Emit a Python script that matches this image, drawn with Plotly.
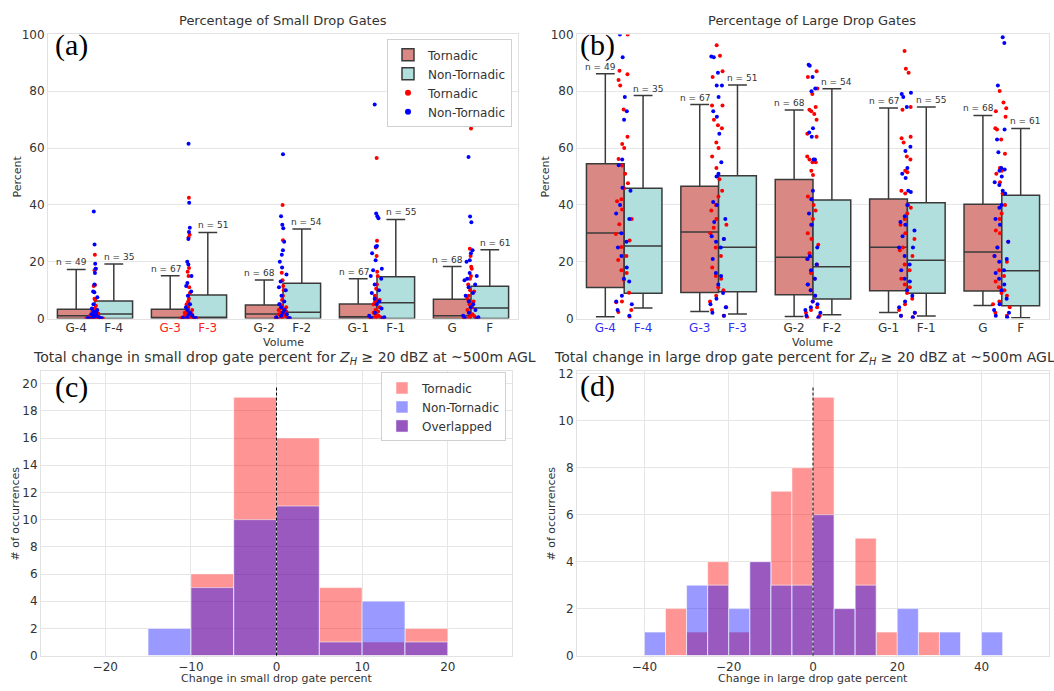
import plotly.graph_objects as go

# ---------------- data ----------------
tick_g = ["G-4", "G-3", "G-2", "G-1", "G"]
tick_f = ["F-4", "F-3", "F-2", "F-1", "F"]
n_tor = [49, 67, 68, 67, 68]
n_non = [35, 51, 54, 55, 61]

# (a) small-drop box statistics
a_tor_q1 = [0.0, 0.0, 0.0, 0.0, 0.0]
a_tor_med = [1.0, 0.3, 1.6, 0.6, 1.0]
a_tor_q3 = [3.3, 3.3, 4.8, 5.1, 6.8]
a_tor_lo = [0.0, 0.0, 0.0, 0.0, 0.0]
a_tor_hi = [17.3, 15.1, 13.6, 14.0, 18.3]
a_non_q1 = [0.0, 0.0, 0.0, 0.0, 0.0]
a_non_med = [1.6, 0.5, 2.2, 5.6, 3.7]
a_non_q3 = [6.2, 8.3, 12.4, 14.7, 11.4]
a_non_lo = [0.0, 0.0, 0.0, 0.0, 0.0]
a_non_hi = [19.2, 30.3, 31.5, 34.9, 24.2]

# (b) large-drop box statistics
b_tor_q1 = [10.9, 9.2, 8.4, 9.8, 9.7]
b_tor_med = [30.1, 30.5, 21.6, 25.1, 23.4]
b_tor_q3 = [54.5, 46.6, 48.9, 42.1, 40.2]
b_tor_lo = [0.6, 2.5, 0.7, 2.1, 4.6]
b_tor_hi = [86.2, 75.3, 73.4, 74.1, 71.5]
b_non_q1 = [8.9, 9.4, 6.9, 8.9, 4.5]
b_non_med = [25.5, 25.1, 18.2, 20.5, 16.8]
b_non_q3 = [45.9, 50.3, 41.7, 40.8, 43.4]
b_non_lo = [3.7, 1.6, 1.3, 0.9, 0.3]
b_non_hi = [78.5, 82.2, 80.9, 74.5, 66.9]

# (a) strip points
a_pts_tor = [
    [22.5, 17.5, 17.0, 11.5, 11.8, 7.0, 6.5, 4.5, 3.5, 3.0, 2.5, 2.0, 1.8, 1.5, 1.2, 1.0, 0.8, 0.6, 0.5, 0.4, 0.3, 0.2, 0.1, 0.0, 0.0, 0.0, 0.0, 0.0],
    [42.5, 29.5, 28.5, 17.8, 16.5, 15.0, 11.0, 9.0, 7.0, 6.0, 5.0, 4.0, 3.0, 2.5, 2.0, 1.5, 1.2, 1.0, 0.8, 0.5, 0.4, 0.3, 0.2, 0.1, 0.0, 0.0, 0.0, 0.0],
    [40.0, 27.6, 16.1, 13.5, 11.5, 10.0, 8.0, 6.5, 5.0, 4.5, 4.0, 3.5, 3.0, 2.5, 2.0, 1.8, 1.5, 1.2, 1.0, 0.8, 0.5, 0.3, 0.2, 0.0, 0.0, 0.0],
    [56.5, 27.4, 25.0, 22.0, 16.5, 15.0, 12.0, 10.5, 8.0, 7.0, 6.5, 6.0, 5.0, 4.0, 3.0, 2.5, 2.0, 1.5, 1.0, 0.8, 0.5, 0.3, 0.2, 0.0, 0.0, 0.0],
    [66.9, 24.6, 22.0, 18.2, 17.5, 15.0, 14.0, 12.0, 10.0, 9.5, 8.0, 7.0, 6.0, 5.0, 4.0, 3.0, 2.0, 1.5, 1.0, 0.8, 0.5, 0.3, 0.2, 0.0, 0.0],
]
a_pts_non = [
    [37.7, 26.1, 19.3, 17.5, 16.0, 12.0, 9.5, 9.3, 7.5, 5.0, 3.5, 3.0, 2.5, 2.0, 1.5, 1.2, 1.0, 0.8, 0.5, 0.4, 0.2, 0.1, 0.0, 0.0],
    [61.5, 40.8, 32.0, 30.5, 28.0, 20.0, 19.0, 15.0, 12.5, 11.5, 9.5, 8.0, 5.0, 4.0, 3.0, 2.0, 1.5, 1.0, 0.5, 0.3, 0.2, 0.0, 0.0],
    [57.8, 36.0, 33.0, 31.8, 27.0, 24.0, 22.5, 20.0, 18.0, 15.5, 13.0, 11.0, 10.0, 8.0, 6.0, 5.0, 4.0, 3.0, 2.0, 1.5, 1.0, 0.5, 0.2, 0.0, 0.0],
    [75.3, 37.0, 36.0, 35.3, 25.5, 25.3, 23.0, 20.5, 17.5, 17.0, 15.0, 14.0, 12.0, 10.0, 9.0, 7.0, 6.0, 5.0, 3.5, 2.0, 1.0, 0.5, 0.2, 0.0],
    [56.9, 35.9, 33.9, 24.0, 23.0, 20.5, 20.0, 16.0, 15.0, 14.0, 13.5, 12.0, 11.0, 9.0, 8.0, 6.0, 5.0, 4.0, 3.0, 2.0, 1.0, 0.5, 0.2, 0.0],
]
# (b) strip points
b_pts_tor = [
    [100, 87.2, 86, 84, 82, 73.6, 64, 61.4, 60, 56.2, 53.9, 51, 47.6, 45.9, 42, 41.3, 38.4, 35, 33.2, 29.8, 27.5, 25.2, 22, 20.6, 17, 16, 13.7, 9.1, 6, 5.7, 3, 2.3, 0.6],
    [96.2, 92.5, 87, 85, 75, 75, 70, 68, 67, 62, 60, 57, 53, 49, 45, 43, 40, 38, 35, 33, 32, 30, 28, 25, 22, 18, 15, 14, 11, 10, 8, 6, 4, 3, 1],
    [87, 85, 81, 79, 74.5, 73.5, 73, 72, 70, 65, 64, 57, 56, 55, 55, 52, 50.5, 43, 42, 40, 38, 35, 33, 30, 28, 26, 23, 21, 19, 16, 14, 12, 10, 8, 6, 4, 3, 2, 1, 0.5, 0],
    [94.2, 87.9, 86.5, 74.5, 73.5, 64, 63.5, 62, 57, 56, 52, 51.5, 45, 44, 40, 39, 37, 35, 33, 30, 28, 25, 24, 22, 19, 17, 14, 12, 11, 9, 7, 5, 3, 2, 1, 0.5],
    [80.1, 76, 74, 73, 71, 67, 66.5, 63, 58, 53, 52, 51, 48, 44, 40, 37, 35, 31, 30, 27, 25, 22, 20, 17, 15, 13, 11, 10, 9, 8, 6, 5, 4, 2, 1],
]
b_pts_non = [
    [100, 92, 78, 73, 70, 56, 54, 46, 45, 40, 37, 35, 30, 27, 25, 22, 18, 14, 13, 8, 6, 5, 3, 1],
    [92.2, 92, 86.5, 82, 82, 78, 73, 71, 65, 55, 51, 50, 41, 40, 35, 34, 29, 28, 27, 25, 21, 16, 15, 12, 9, 7, 5, 4, 2, 1],
    [89.3, 89, 85, 81, 80, 67, 65.5, 64, 56, 56, 45, 42, 37, 33, 25, 22, 21, 19, 17, 14, 12, 10, 8, 6, 5, 4, 3, 2, 1, 0.5],
    [79.5, 79, 78, 74.5, 60.5, 59, 53, 51, 49.5, 45, 44.5, 40, 36, 34, 33, 31, 29, 25, 25, 22, 19, 17, 14, 13, 10, 8, 6, 4, 2, 1, 0.5],
    [99, 97, 82, 66.5, 63, 58.5, 53, 52.5, 52, 50, 48, 47, 45, 44, 40, 39, 35, 33, 27, 25, 22, 21, 20, 17, 16, 14, 12, 10, 7, 5, 3, 2, 1, 0.5],
]

# (c) histogram of change in small drop gate percent (bin left edges, width 5)
c_bins = [-15, -10, -5, 0, 5, 10, 15]
c_tor = [0, 6, 19, 16, 5, 1, 2]
c_non = [2, 5, 10, 11, 1, 4, 1]
# (d) histogram of change in large drop gate percent
d_bins = [-40, -35, -30, -25, -20, -15, -10, -5, 0, 5, 10, 15, 20, 25, 30, 35, 40]
d_tor = [0, 2, 1, 4, 1, 4, 7, 8, 11, 2, 5, 1, 0, 1, 0, 0, 0]
d_non = [1, 0, 3, 3, 2, 4, 3, 3, 6, 2, 3, 0, 2, 0, 1, 0, 1]
bin_w = 5

# ---------------- styling ----------------
W, H = 1054, 691
FONT = "DejaVu Sans"
TXT = "#333333"
TOR_FILL = "#d98884"
NON_FILL = "#b1dfdd"
BOX_LINE = "#3a3a3a"
HIST_RED = "rgba(255,0,0,0.42)"
HIST_BLUE = "rgba(0,0,255,0.40)"
OVERLAP = "rgb(150,86,192)"

def px_x(p):
    return p / W

def px_y(p):
    return 1 - p / H

fig = go.Figure()

def add_boxes(xa, ya, q1, med, q3, lo, hi, fill, name, show, legend="legend", offset=0.0):
    xs = [i + offset for i in range(len(q1))]
    fig.add_trace(go.Box(
        x=xs, q1=q1, median=med, q3=q3, lowerfence=lo, upperfence=hi,
        width=0.4, whiskerwidth=0.5, fillcolor=fill,
        line=dict(color=BOX_LINE, width=1.5), name=name, showlegend=show,
        legend=legend, xaxis=xa, yaxis=ya, boxpoints=False, hoverinfo="skip"))

def add_points(xa, ya, pts, color):
    for i, vals in enumerate(pts):
        fig.add_trace(go.Box(
            x=[i] * len(vals), y=vals, width=0.22, boxpoints="all", jitter=1.0,
            pointpos=0, fillcolor="rgba(0,0,0,0)", line=dict(width=0, color="rgba(0,0,0,0)"),
            marker=dict(color=color, size=4), showlegend=False,
            xaxis=xa, yaxis=ya, hoverinfo="skip"))

# (a)
add_boxes("x", "y", a_tor_q1, a_tor_med, a_tor_q3, a_tor_lo, a_tor_hi, TOR_FILL, "Tornadic", True, offset=-0.2)
add_boxes("x", "y", a_non_q1, a_non_med, a_non_q3, a_non_lo, a_non_hi, NON_FILL, "Non-Tornadic", True, offset=0.2)
add_points("x", "y", a_pts_tor, "red")
add_points("x", "y", a_pts_non, "blue")
fig.add_trace(go.Scatter(x=[None], y=[None], mode="markers", marker=dict(color="red", size=6),
                         name="Tornadic", xaxis="x", yaxis="y", legend="legend"))
fig.add_trace(go.Scatter(x=[None], y=[None], mode="markers", marker=dict(color="blue", size=6),
                         name="Non-Tornadic", xaxis="x", yaxis="y", legend="legend"))
# (b)
add_boxes("x2", "y2", b_tor_q1, b_tor_med, b_tor_q3, b_tor_lo, b_tor_hi, TOR_FILL, "Tornadic", False, offset=-0.2)
add_boxes("x2", "y2", b_non_q1, b_non_med, b_non_q3, b_non_lo, b_non_hi, NON_FILL, "Non-Tornadic", False, offset=0.2)
add_points("x2", "y2", b_pts_tor, "red")
add_points("x2", "y2", b_pts_non, "blue")

# (c), (d) histograms
def add_hist(xa, ya, bins, tor, non, show):
    centers = [b + bin_w / 2 for b in bins]
    edge = dict(color="rgba(255,255,255,0.55)", width=1)
    fig.add_trace(go.Bar(x=centers, y=tor, width=bin_w, marker=dict(color=HIST_RED, line=edge),
                         name="Tornadic", showlegend=show, legend="legend2", xaxis=xa, yaxis=ya,
                         hoverinfo="skip"))
    fig.add_trace(go.Bar(x=centers, y=non, width=bin_w, marker=dict(color=HIST_BLUE, line=edge),
                         name="Non-Tornadic", showlegend=show, legend="legend2", xaxis=xa, yaxis=ya,
                         hoverinfo="skip"))

add_hist("x3", "y3", c_bins, c_tor, c_non, True)
fig.add_trace(go.Bar(x=[None], y=[None], marker=dict(color=OVERLAP), name="Overlapped",
                     legend="legend2", xaxis="x3", yaxis="y3"))
add_hist("x4", "y4", d_bins, d_tor, d_non, False)

# ---------------- axes ----------------
base = dict(showgrid=True, gridcolor="#e6e6e6", gridwidth=1, zeroline=False, showline=True,
            linecolor="#e2e2e2", linewidth=1, mirror=True, ticks="",
            tickfont=dict(family=FONT, size=12, color=TXT))

def ticklabels(colored_idx, color):
    out_v, out_t = [], []
    for i in range(len(tick_g)):
        for off, lab in ((-0.2, tick_g[i]), (0.2, tick_f[i])):
            out_v.append(i + off)
            if i in colored_idx:
                out_t.append('<span style="color:%s">%s</span>' % (color, lab))
            else:
                out_t.append(lab)
    return out_v, out_t

tva, tta = ticklabels([1], "#ff2020")
tvb, ttb = ticklabels([0, 1], "#2f2ff5")

dom_a_x = [px_x(48), px_x(518)]
dom_b_x = [px_x(577), px_x(1049)]
dom_c_x = [px_x(41), px_x(512)]
dom_d_x = [px_x(577), px_x(1049)]
dom_top_y = [px_y(318), px_y(28)]
dom_bot_y = [px_y(662), px_y(372)]

fig.update_layout(
    xaxis=dict(base, domain=dom_a_x, anchor="y", range=[-0.5, 4.5], showgrid=False,
               tickvals=tva, ticktext=tta, ticklabelstandoff=-2),
    yaxis=dict(base, domain=dom_top_y, anchor="x", range=[0, 100], tickvals=[0, 20, 40, 60, 80, 100]),
    xaxis2=dict(base, domain=dom_b_x, anchor="y2", range=[-0.5, 4.5], showgrid=False,
                tickvals=tvb, ticktext=ttb, ticklabelstandoff=-2),
    yaxis2=dict(base, domain=dom_top_y, anchor="x2", range=[0, 100], tickvals=[0, 20, 40, 60, 80, 100]),
    xaxis3=dict(base, domain=dom_c_x, anchor="y3", range=[-27.5, 27.5], tickvals=[-20, -10, 0, 10, 20]),
    yaxis3=dict(base, domain=dom_bot_y, anchor="x3", range=[0, 20.9], tickvals=list(range(0, 21, 2))),
    xaxis4=dict(base, domain=dom_d_x, anchor="y4", range=[-56, 56], tickvals=[-40, -20, 0, 20, 40]),
    yaxis4=dict(base, domain=dom_bot_y, anchor="x4", range=[0, 12.1], tickvals=list(range(0, 13, 2))),
    boxmode="overlay", barmode="overlay",
    width=W, height=H, margin=dict(l=0, r=0, t=0, b=0),
    paper_bgcolor="white", plot_bgcolor="white",
    font=dict(family=FONT, color=TXT, size=12),
    legend=dict(x=px_x(512), y=px_y(33), xanchor="right", yanchor="top", bgcolor="white",
                bordercolor="#d0d0d0", borderwidth=1, font=dict(size=12, color=TXT),
                tracegroupgap=0),
    legend2=dict(x=px_x(506), y=px_y(373), xanchor="right", yanchor="top", bgcolor="white",
                 bordercolor="#d0d0d0", borderwidth=1, font=dict(size=12, color=TXT),
                 tracegroupgap=0),
)

# dashed zero lines
for xa, ya in (("x3", "y3"), ("x4", "y4")):
    fig.add_shape(type="line", xref=xa, yref=ya + " domain", x0=0, x1=0, y0=0, y1=0.95,
                  line=dict(color="black", width=1, dash="3px,2px"))

ann = []
def text(x, y, s, size=12, **kw):
    d = dict(x=x, y=y, xref="paper", yref="paper", text=s, showarrow=False,
             xanchor="center", yanchor="middle",
             font=dict(family=FONT, size=size, color=TXT))
    d.update(kw)
    ann.append(d)

# titles
text(px_x(283), px_y(14), "Percentage of Small Drop Gates", 13)
text(px_x(812), px_y(14), "Percentage of Large Drop Gates", 13)
text(px_x(284), px_y(358), "Total change in small drop gate percent for <i>Z<sub>H</sub></i> \u2265 20 dBZ at ~500m AGL", 14)
text(px_x(804), px_y(358), "Total change in large drop gate percent for <i>Z<sub>H</sub></i> \u2265 20 dBZ at ~500m AGL", 14)
# axis titles
text(px_x(283), px_y(342), "Volume", 11)
text(px_x(812), px_y(342), "Volume", 11)
text(px_x(17), px_y(173), "Percent", 11, textangle=-90)
text(px_x(545), px_y(173), "Percent", 11, textangle=-90)
text(px_x(16), px_y(517), "# of occurrences", 11, textangle=-90)
text(px_x(552), px_y(517), "# of occurrences", 11, textangle=-90)
text(px_x(277), px_y(685), "Change in small drop gate percent", 11)
text(px_x(813), px_y(685), "Change in large drop gate percent", 11)
# panel labels
for lx, ly, lab in ((71, 39, "(a)"), (597, 39, "(b)"), (71, 388, "(c)"), (597, 387, "(d)")):
    ann.append(dict(x=px_x(lx), y=px_y(ly), xref="paper", yref="paper", text=lab, showarrow=False,
                    xanchor="center", yanchor="middle",
                    font=dict(family="Liberation Serif", size=30, color="black")))

# n labels
for xa, ya, his_t, his_n in (("x", "y", a_tor_hi, a_non_hi), ("x2", "y2", b_tor_hi, b_non_hi)):
    for i in range(5):
        for off, hi, n in ((-0.25, his_t[i], n_tor[i]), (0.25, his_n[i], n_non[i])):
            ann.append(dict(x=i + off, y=hi, xref=xa, yref=ya, text="n = %d" % n, showarrow=False,
                            xanchor="center", yanchor="bottom", yshift=0,
                            font=dict(family=FONT, size=9, color=TXT)))

fig.update_layout(annotations=ann)
fig.write_html("out.html")
